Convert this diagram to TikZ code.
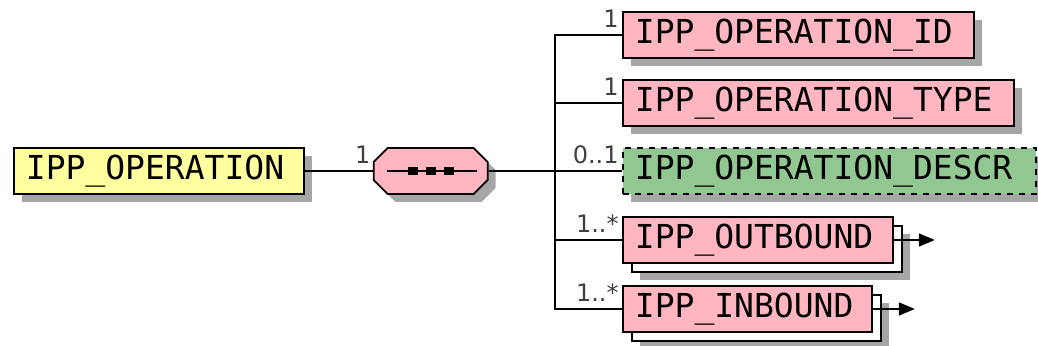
\documentclass[tikz,border=0pt]{standalone}
\usepackage{fontspec}
\setmainfont{DejaVu Sans}
\newfontfamily\elemfont{DejaVu Sans Mono}
\usepackage{tikz}
\usetikzlibrary{positioning,arrows.meta,shapes.misc,shadows}
\definecolor{elempink}{RGB}{255,182,193}
\definecolor{rootyellow}{RGB}{255,255,160}
\definecolor{optgreen}{RGB}{145,200,145}
\colorlet{shadowgray}{black!35}

\begin{document}
\begin{tikzpicture}[
x=0.5pt,y=-0.5pt,
Shadow/.style={drop shadow={shadow xshift=4pt,shadow yshift=-4pt,fill=shadowgray,opacity=1}},
BoxBase/.style={draw=black,line width=0.9pt,fill=elempink,anchor=west,align=left,
  font=\elemfont\fontsize{16.5}{18}\selectfont,inner xsep=6pt,inner ysep=0pt,minimum height=23pt},
Element/.style={BoxBase,Shadow},
Optional/.style={Element,fill=optgreen,dashed},
Many/.style={BoxBase,
  drop shadow={shadow xshift=8.5pt,shadow yshift=-8.5pt,fill=shadowgray,opacity=1},
  copy shadow={shadow xshift=4.5pt,shadow yshift=-4.5pt,fill=white,draw=black,line width=0.9pt,opacity=1}},
Sequence/.style={chamfered rectangle,chamfered rectangle xsep=3.5pt,chamfered rectangle ysep=3.5pt,
  draw=black,line width=0.9pt,fill=elempink,inner xsep=25pt,inner ysep=8pt,Shadow},
Mult/.style={font=\fontsize{12}{13}\selectfont,text=black!75,inner sep=0pt,anchor=south east},
Conn/.style={draw=black,line width=0.8pt},
Tip/.style={-{Triangle[length=8pt,width=6.5pt]}}
]
\useasboundingbox (0,0) rectangle (1038,346);

% root element and its sequence
\node[Element,fill=rootyellow,text width=133pt] (op) at (13,171) {IPP\_OPERATION};
\node[Sequence,right=34pt of op] (seq) {};
\draw[Conn] ([xshift=7pt]seq.west) -- ([xshift=-6pt]seq.east);
\foreach \dx in {-18,0,18}
  \fill[shift={(seq.center)}] (\dx-5,-4) rectangle (\dx+5,4);

% children
\node[Element,text width=163.5pt] (id) at (622,35) {IPP\_OPERATION\_ID};
\node[Element,text width=183.5pt] (type) at (622,103) {IPP\_OPERATION\_TYPE};
\node[Optional,text width=194.5pt] (descr) at (622,171) {IPP\_OPERATION\_DESCR};
\node[Many,text width=123pt] (out) at (622,240) {IPP\_OUTBOUND};
\node[Many,text width=112.5pt] (in) at (622,309) {IPP\_INBOUND};

% connectors
\coordinate (fork) at (555,171);
\draw[Conn] (op) -- (seq);
\draw[Conn] (seq) -- (fork);
\foreach \child in {id,type,descr,out,in}
  \draw[Conn] (fork) |- (\child.west);

\coordinate[right=20.5pt of out] (outend);
\coordinate[right=21pt of in] (inend);
\draw[Conn,Tip] (out) -- (outend);
\draw[Conn,Tip] (in) -- (inend);

% multiplicities
\node[Mult] (seqmult) at ([xshift=-1pt,yshift=3.5pt]seq.west) {1};
\node[Mult] (idmult) at ([xshift=-1.5pt,yshift=3.5pt]id.west) {1};
\node[Mult] (typemult) at ([xshift=-1.5pt,yshift=3.5pt]type.west) {1};
\node[Mult] (descrmult) at ([xshift=-1.5pt,yshift=3.5pt]descr.west) {0..1};
\node[Mult] (outmult) at ([xshift=-1.5pt,yshift=3.5pt]out.west) {1..*};
\node[Mult] (inmult) at ([xshift=-1.5pt,yshift=3.5pt]in.west) {1..*};
\end{tikzpicture}
\end{document}
